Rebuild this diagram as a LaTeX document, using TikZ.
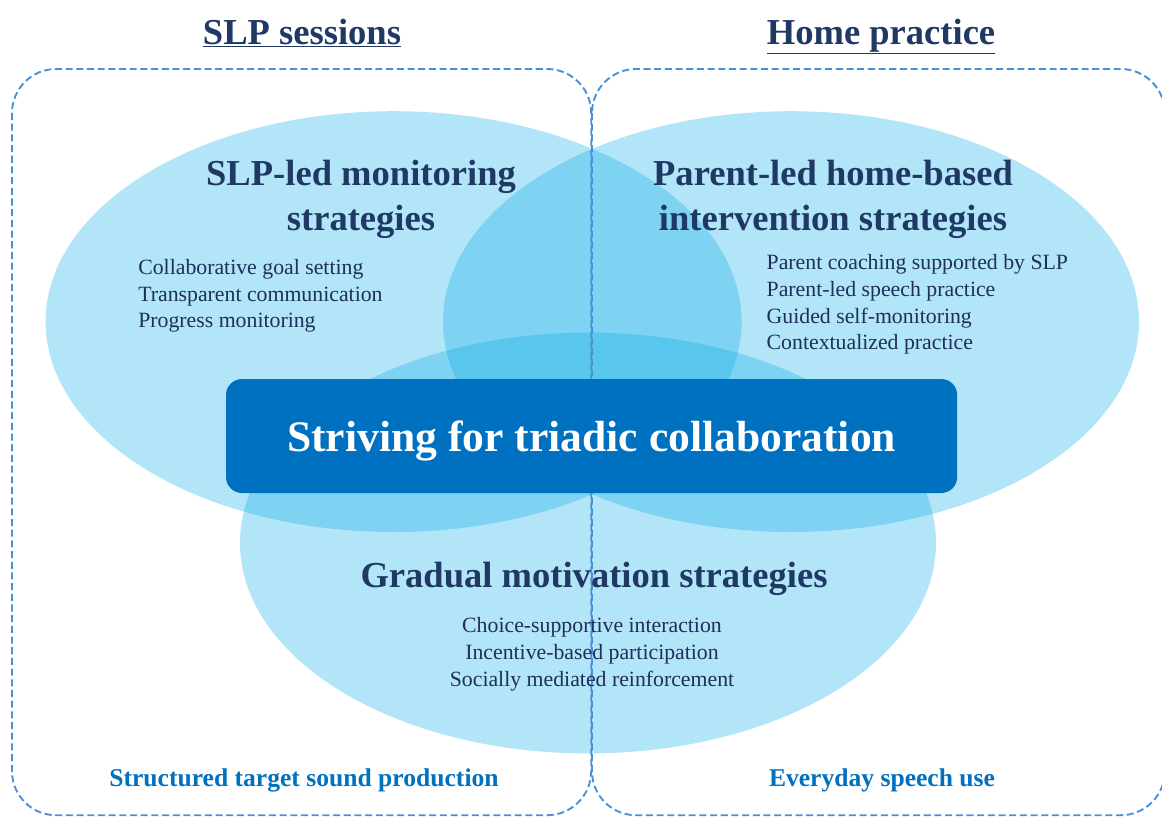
\documentclass[tikz,border=0pt]{standalone}
\usepackage{fontspec}
\setmainfont{Liberation Serif}
\usepackage{tikz}
\usetikzlibrary{shapes.geometric}

\definecolor{navy}{HTML}{1F3864}
\definecolor{itemnavy}{HTML}{1F2E5C}
\definecolor{deepblue}{HTML}{0070C0}
\definecolor{dashblue}{HTML}{4A90D9}
\definecolor{skyfill}{RGB}{15,173,230}

\begin{document}
\begin{tikzpicture}[
    every node/.style={inner sep=0pt},
    zone/.style={draw=dashblue, line width=1.35pt, dash pattern=on 5pt off 2.6pt, rounded corners=1.1cm},
    blob/.style={ellipse, fill=skyfill, fill opacity=0.32, minimum width=17.4cm, minimum height=10.52cm},
    setting/.style={anchor=base, font=\fontsize{26}{30}\selectfont\bfseries, text=navy},
    heading/.style={align=center, font=\fontsize{26}{31.7}\selectfont\bfseries, text=navy},
    items/.style={font=\fontsize{15.5}{19}\selectfont, text=itemnavy},
    outcome/.style={anchor=base, font=\fontsize{18.2}{22}\selectfont\bfseries, text=deepblue},
    core/.style={fill=deepblue, rounded corners=0.4cm, minimum width=18.28cm, minimum height=2.85cm,
        text depth=0pt, text=white, font=\fontsize{31}{36}\selectfont\bfseries}
]
\useasboundingbox (0,0) rectangle (29.05,-20.425);

% Three overlapping strategy areas
\node[blob] (slp) at (9.84,-8.04) {};
\node[blob] (home) at (19.775,-8.04) {};
\node[blob] (motiv) at (14.7,-13.575) {};

% Settings: clinic vs. home
\draw[zone] (0.3,-1.725) rectangle (14.78,-20.38);
\draw[zone] (14.8,-1.725) rectangle (29.12,-20.38);
\node[setting] (clinic) at (7.55,-1.1) {\underline{SLP sessions}};
\node[setting] (house) at (22.025,-1.1) {\underline{Home practice}};

% Strategy headings
\node[heading] (slphead) at (9.025,-4.99) {SLP-led monitoring\\strategies};
\node[heading] (homehead) at (20.825,-4.99) {Parent-led home-based\\intervention strategies};
\node[heading] (motivhead) at (14.85,-14.47) {Gradual motivation strategies};

% Strategy items
\node[items, align=left, anchor=west] (slpitems) at (3.45,-7.4)
    {Collaborative goal setting\\Transparent communication\\Progress monitoring};
\node[items, align=left, anchor=west] (homeitems) at (19.16,-7.61)
    {Parent coaching supported by SLP\\Parent-led speech practice\\Guided self-monitoring\\Contextualized practice};
\node[items, align=center] (motivitems) at (14.8,-16.36)
    {Choice-supportive interaction\\Incentive-based participation\\Socially mediated reinforcement};

% Centre
\node[core] (triad) at (14.79,-10.9) {Striving for triadic collaboration};

% Outcomes per setting
\node[outcome] (clinicgoal) at (7.6,-19.67) {Structured target sound production};
\node[outcome] (housegoal) at (22.05,-19.67) {Everyday speech use};

\end{tikzpicture}
\end{document}
